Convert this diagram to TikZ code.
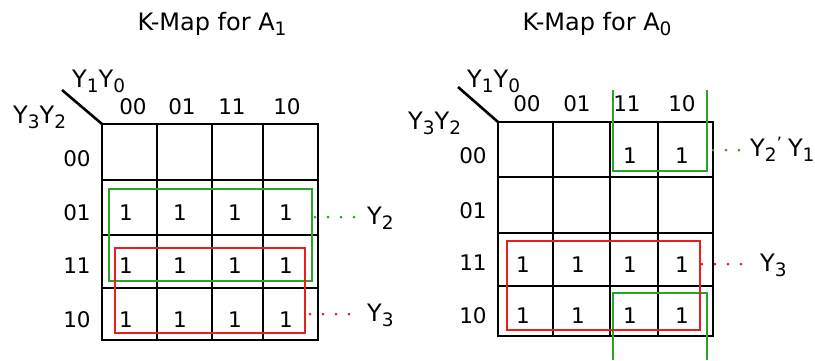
\documentclass[tikz,border=0pt]{standalone}
\usepackage{fontspec}
\setmainfont{DejaVu Sans}
\definecolor{kgreen}{RGB}{40,165,40}
\definecolor{kred}{RGB}{235,30,30}
% lowered index digit, as in Y_1
\newcommand{\lowidx}[1]{\raisebox{-5pt}{\fontsize{18.5}{18.5}\selectfont #1}}
\begin{document}
\begin{tikzpicture}[x=1pt,y=-1pt,
  txt/.style={inner sep=0pt, font=\fontsize{24}{28}\selectfont},
  num/.style={inner sep=0pt, font=\fontsize{21.5}{25}\selectfont},
  gridline/.style={line width=2.6pt, black, line cap=rect},
  grpgreen/.style={line width=2.5pt, draw=kgreen},
  grpred/.style={line width=2.5pt, draw=kred},
  dotlink/.style={line width=3pt, dash pattern=on 0pt off 13pt, line cap=round},
]
\useasboundingbox (0,0) rectangle (815,360);

% ---------------- K-map for A1 ----------------
\node[txt, anchor=base] (t1) at (212,30) {K-Map for A\lowidx{1}};

\foreach \x in {102,157,212,263,318} \draw[gridline] (\x,124) -- (\x,340);
\foreach \y in {124,180,235,288,340} \draw[gridline] (102,\y) -- (318,\y);
\coordinate (c1) at (102,124);
\coordinate (d1) at (62,90);
\draw[line width=2.6pt] (d1) -- (c1);

\node[txt, anchor=base west] (cv1) at (72,87) {Y\lowidx{1}Y\lowidx{0}};
\node[txt, anchor=base west] (rv1) at (13,123) {Y\lowidx{3}Y\lowidx{2}};

\node[num] (h1a) at (133,107) {00};
\node[num] (h1b) at (182,107) {01};
\node[num] (h1c) at (232,107) {11};
\node[num] (h1d) at (287,107) {10};

\node[num] (r1a) at (77,159) {00};
\node[num] (r1b) at (77,213) {01};
\node[num] (r1c) at (77,266) {11};
\node[num] (r1d) at (77,320) {10};

\foreach \r/\y in {b/213,c/266,d/320}
  \foreach \c/\x in {a/126,b/180,c/235,d/286}
    \node[num] (m1\r\c) at (\x,\y) {1};

% groups
\draw[grpgreen] (109,189) rectangle (312,281);
\draw[grpred] (115,248) rectangle (305,333);

\coordinate (g1) at (315,217);
\coordinate (q1) at (310,314);
\node[txt, anchor=base west] (y2a) at (367,224) {Y\lowidx{2}};
\node[txt, anchor=base west] (y3a) at (367,321) {Y\lowidx{3}};
\draw[dotlink, kgreen] (g1) -- (g1 -| y2a.west) [shorten >=8pt];
\draw[dotlink, kred] (q1) -- (q1 -| y3a.west) [shorten >=8pt];

% ---------------- K-map for A0 ----------------
\node[txt, anchor=base] (t0) at (597,30) {K-Map for A\lowidx{0}};

\foreach \x in {498,553,610,658,713} \draw[gridline] (\x,122) -- (\x,336);
\foreach \y in {122,177,233,286,336} \draw[gridline] (498,\y) -- (713,\y);
\coordinate (c0) at (498,122);
\coordinate (d0) at (458,87);
\draw[line width=2.6pt] (d0) -- (c0);

\node[txt, anchor=base west] (cv0) at (467,87) {Y\lowidx{1}Y\lowidx{0}};
\node[txt, anchor=base west] (rv0) at (408,129) {Y\lowidx{3}Y\lowidx{2}};

\node[num] (h0a) at (527,104) {00};
\node[num] (h0b) at (577,104) {01};
\node[num] (h0c) at (627,104) {11};
\node[num] (h0d) at (682,104) {10};

\node[num] (r0a) at (473,156) {00};
\node[num] (r0b) at (473,211) {01};
\node[num] (r0c) at (473,263) {11};
\node[num] (r0d) at (473,316) {10};

\node[num] (m0ac) at (630,156) {1};
\node[num] (m0ad) at (682,156) {1};
\foreach \r/\y in {c/265,d/316}
  \foreach \c/\x in {a/523,b/578,c/630,d/682}
    \node[num] (m0\r\c) at (\x,\y) {1};

% wrap-around group over the top and bottom rows
\draw[grpgreen] (613,90) -- (613,171) -- (707,171) -- (707,90);
\draw[grpgreen] (613,360) -- (613,293) -- (707,293) -- (707,360);
\draw[grpred] (507,241) rectangle (700,330);

\coordinate (g0) at (713,150);
\coordinate (q0) at (702,264);
\node[txt, anchor=base west] (y21) at (750,156) {Y\lowidx{2}\raisebox{7pt}{\fontsize{17}{17}\selectfont '}\hspace{6pt}Y\lowidx{1}};
\node[txt, anchor=base west] (y3b) at (760,271) {Y\lowidx{3}};
\draw[dotlink, kgreen] (g0) -- (g0 -| y21.west) [shorten >=6pt];
\draw[dotlink, kred] (q0) -- (q0 -| y3b.west) [shorten >=12pt];
\end{tikzpicture}
\end{document}
